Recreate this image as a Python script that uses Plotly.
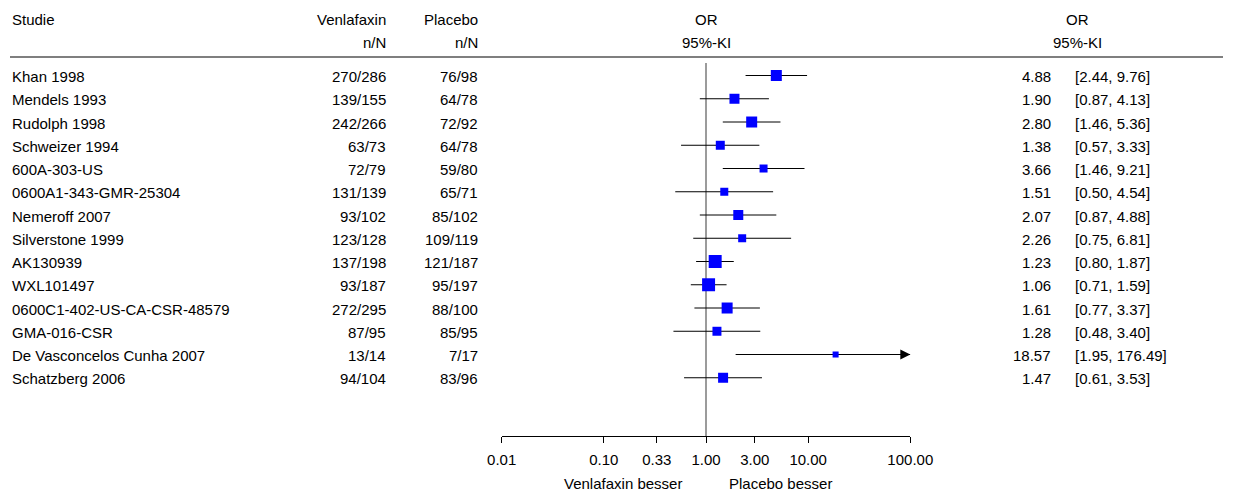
import plotly.graph_objects as go
import math

# ---------------- data ----------------
studies = ["Khan 1998", "Mendels 1993", "Rudolph 1998", "Schweizer 1994", "600A-303-US",
           "0600A1-343-GMR-25304", "Nemeroff 2007", "Silverstone 1999", "AK130939",
           "WXL101497", "0600C1-402-US-CA-CSR-48579", "GMA-016-CSR",
           "De Vasconcelos Cunha 2007", "Schatzberg 2006"]
venla_nN = ["270/286", "139/155", "242/266", "63/73", "72/79", "131/139", "93/102",
            "123/128", "137/198", "93/187", "272/295", "87/95", "13/14", "94/104"]
placebo_nN = ["76/98", "64/78", "72/92", "64/78", "59/80", "65/71", "85/102",
              "109/119", "121/187", "95/197", "88/100", "85/95", "7/17", "83/96"]
or_vals = [4.88, 1.90, 2.80, 1.38, 3.66, 1.51, 2.07, 2.26, 1.23, 1.06, 1.61, 1.28, 18.57, 1.47]
ci_low = [2.44, 0.87, 1.46, 0.57, 1.46, 0.50, 0.87, 0.75, 0.80, 0.71, 0.77, 0.48, 1.95, 0.61]
ci_high = [9.76, 4.13, 5.36, 3.33, 9.21, 4.54, 4.88, 6.81, 1.87, 1.59, 3.37, 3.40, 176.49, 3.53]
weights = [8.7, 7.2, 8.7, 5.8, 4.6, 4.6, 7.2, 4.6, 12.1, 12.1, 8.7, 5.8, 2.6, 7.2]
tick_vals = [0.01, 0.10, 0.33, 1.00, 3.00, 10.00, 100.00]
tick_text = ["0.01", "0.10", "0.33", "1.00", "3.00", "10.00", "100.00"]
x_min, x_max = 0.01, 100.0

# ---------------- layout constants ----------------
W, H = 1233, 494
OFF = 8  # page body margin of the rendered html
FONT = dict(family="Liberation Sans, Arial, sans-serif", size=15, color="black")
n = len(studies)
rows = [-i for i in range(n)]


def px(x):
    return (x - OFF) / W


def py(y):
    return 1 - (y - OFF) / H


fig = go.Figure()

# vertical reference line at OR = 1
y_top, y_bot = 0.538, -(n - 1) - 2.505
fig.add_trace(go.Scatter(x=[1, 1], y=[y_top, y_bot], mode="lines",
                         line=dict(color="#7a7a7a", width=1.5), hoverinfo="skip", showlegend=False))

# CI lines
lx, ly = [], []
for r, lo, hi in zip(rows, ci_low, ci_high):
    lx += [max(lo, x_min), min(hi, x_max), None]
    ly += [r, r, None]
fig.add_trace(go.Scatter(x=lx, y=ly, mode="lines", line=dict(color="black", width=1),
                         hoverinfo="skip", showlegend=False))

# arrows for truncated CIs
ax_, ay_ = [], []
for r, hi in zip(rows, ci_high):
    if hi > x_max:
        ax_.append(x_max)
        ay_.append(r)
fig.add_trace(go.Scatter(x=ax_, y=ay_, mode="markers",
                         marker=dict(symbol="arrow-right", size=10, color="black", opacity=1,
                                     line=dict(width=0)),
                         hoverinfo="skip", showlegend=False, cliponaxis=False))

# squares
sizes = [3.73 * math.sqrt(w) for w in weights]
fig.add_trace(go.Scatter(x=or_vals, y=rows, mode="markers",
                         marker=dict(symbol="square", size=sizes, color="#0000FF", opacity=1,
                                     line=dict(width=0)),
                         showlegend=False, cliponaxis=False))

ann = []
# headers
hdr = [
    ("Studie", 10, 19, "left"), ("Venlafaxin", 388, 19, "right"), ("Placebo", 480, 19, "right"),
    ("OR", 706, 19, "center"), ("OR", 1077, 19, "center"),
    ("n/N", 388, 43, "right"), ("n/N", 480, 43, "right"),
    ("95%-KI", 706, 43, "center"), ("95%-KI", 1077, 43, "center"),
]
for t, x, y, a in hdr:
    ann.append(dict(text=t, x=px(x), y=py(y), xref="paper", yref="paper", xanchor=a,
                    yanchor="middle", showarrow=False, font=FONT))

# row texts
for i, r in enumerate(rows):
    cells = [(studies[i], 10, "left"), (venla_nN[i], 388, "right"), (placebo_nN[i], 480, "right"),
             (f"{or_vals[i]:.2f}", 1053, "right"),
             (f"[{ci_low[i]:.2f}, {ci_high[i]:.2f}]", 1073, "left")]
    for t, x, a in cells:
        ann.append(dict(text=t, x=px(x), y=r, xref="paper", yref="y", xanchor=a, yanchor="middle",
                        yshift=-1, showarrow=False, font=FONT))

# favours labels
ann.append(dict(text="Venlafaxin besser", x=px(684), y=py(483), xref="paper", yref="paper",
                xanchor="right", yanchor="middle", showarrow=False, font=FONT))
ann.append(dict(text="Placebo besser", x=px(727), y=py(483), xref="paper", yref="paper",
                xanchor="left", yanchor="middle", showarrow=False, font=FONT))

fig.update_layout(
    width=W, height=H, margin=dict(l=0, r=0, t=0, b=0, autoexpand=False),
    paper_bgcolor="white", plot_bgcolor="white", font=FONT, showlegend=False,
    annotations=ann,
    shapes=[dict(type="line", xref="paper", yref="paper", x0=px(10), x1=px(1223),
                 y0=py(57), y1=py(57), line=dict(color="#555555", width=1.5))],
    xaxis=dict(type="log", range=[math.log10(x_min), math.log10(x_max)],
               domain=[px(501.7), px(910.3)], showline=True, linecolor="black", linewidth=1,
               ticks="outside", ticklen=6, tickcolor="black", tickwidth=1,
               tickvals=tick_vals, ticktext=tick_text, showgrid=False, zeroline=False,
               tickfont=FONT, ticklabelstandoff=4, anchor="y", automargin=False),
    yaxis=dict(range=[y_bot, y_top], domain=[py(436), py(63)], visible=False,
               showgrid=False, zeroline=False, automargin=False),
)

fig.write_html("out.html")
